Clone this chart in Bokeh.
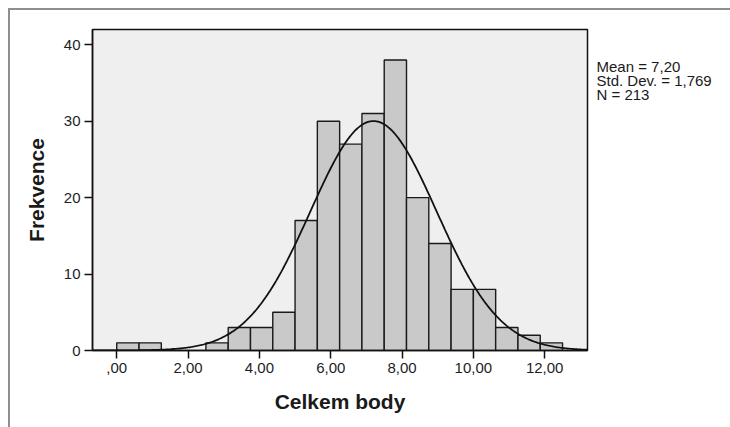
import numpy as np
from bokeh.plotting import figure
from bokeh.layouts import row
from bokeh.models import FixedTicker, Range1d, ColumnDataSource
from bokeh.core.properties import value
from bokeh.embed import file_html
from bokeh.resources import INLINE

# ---- data ----
BIN_WIDTH = 0.625
BIN_START = [0.0, 0.625, 2.5, 3.125, 3.75, 4.375, 5.0, 5.625, 6.25, 6.875,
             7.5, 8.125, 8.75, 9.375, 10.0, 10.625, 11.25, 11.875]
COUNTS = [1, 1, 1, 3, 3, 5, 17, 30, 27, 31, 38, 20, 14, 8, 8, 3, 2, 1]
MEAN = 7.20
STD = 1.769
N = 213
X_TICKS = [0, 2, 4, 6, 8, 10, 12]
X_TICK_LABELS = [",00", "2,00", "4,00", "6,00", "8,00", "10,00", "12,00"]
Y_TICKS = [0, 10, 20, 30, 40]
STATS_LINES = ["Mean = 7,20", "Std. Dev. = 1,769", "N = 213"]

FONT = "Liberation Sans"
X0, X1 = -0.68, 13.2
Y0, Y1 = 0, 42.0
H = 417

p = figure(frame_width=495, frame_height=321, output_backend="svg", toolbar_location=None,
           x_range=Range1d(X0, X1), y_range=Range1d(Y0, Y1),
           min_border_left=82, min_border_right=2, min_border_top=19,
           min_border_bottom=77)

p.background_fill_color = "#efefef"
p.border_fill_color = "white"
p.outline_line_color = "#111111"
p.outline_line_width = 1.5
p.xgrid.visible = False
p.ygrid.visible = False

src = ColumnDataSource(dict(
    left=BIN_START,
    right=[b + BIN_WIDTH for b in BIN_START],
    top=COUNTS,
    bottom=[0] * len(COUNTS),
))
p.quad(left="left", right="right", top="top", bottom="bottom", source=src,
       fill_color="#c9c9c9", line_color="#1a1a1a", line_width=1.4)

# fitted normal curve from the stated mean / SD / N
xs = np.linspace(X0, X1, 400)
ys = N * BIN_WIDTH * np.exp(-0.5 * ((xs - MEAN) / STD) ** 2) / (STD * np.sqrt(2 * np.pi))
p.line(xs, ys, line_color="#111111", line_width=1.8)

for ax in (p.xaxis[0], p.yaxis[0]):
    ax.axis_line_color = "#111111"
    ax.axis_line_width = 1.5
    ax.major_tick_line_color = "#111111"
    ax.major_tick_line_width = 1.5
    ax.major_tick_out = 8
    ax.major_tick_in = 0
    ax.minor_tick_line_color = None
    ax.major_label_text_font = FONT
    ax.major_label_text_font_size = "15px"
    ax.major_label_text_color = "#1e1e1e"
    ax.axis_label_text_font = FONT
    ax.axis_label_text_font_size = "21px"
    ax.axis_label_text_font_style = "bold"
    ax.axis_label_text_color = "#1a1a1a"

p.xaxis.ticker = FixedTicker(ticks=X_TICKS)
p.xaxis.major_label_overrides = {t: l for t, l in zip(X_TICKS, X_TICK_LABELS)}
p.xaxis.axis_label = "Celkem body"
p.xaxis.major_label_standoff = 4
p.xaxis.axis_label_standoff = 14

p.yaxis.ticker = FixedTicker(ticks=Y_TICKS)
p.yaxis.axis_label = "Frekvence"
p.yaxis.major_label_standoff = 4
p.yaxis.axis_label_standoff = 13

# side panel holding the statistics text (pixel-like coordinates)
W2 = 141
p2 = figure(frame_width=W2, frame_height=H, output_backend="svg", toolbar_location=None,
            x_range=Range1d(0, W2), y_range=Range1d(0, H),
            x_axis_location=None, y_axis_location=None,
            min_border=0, min_border_left=0, min_border_right=0,
            min_border_top=0, min_border_bottom=0)
p2.grid.visible = False
p2.outline_line_color = None
p2.background_fill_color = "white"
p2.border_fill_color = "white"
stats_src = ColumnDataSource(dict(
    x=[7] * len(STATS_LINES),
    y=[H - 37 - 14 * i for i in range(len(STATS_LINES))],
    text=STATS_LINES,
))
p2.text(x="x", y="y", text="text", source=stats_src, text_font=value(FONT),
        text_font_size="15px", text_color="#1a1a1a", text_baseline="alphabetic")

layout = row(p, p2, spacing=0)
layout.styles = {"margin-left": "8px", "margin-top": "8px",
                 "border-left": "2px solid #8e8e8e", "border-top": "2px solid #8e8e8e"}

open("out.html", "w").write(file_html(layout, INLINE))
